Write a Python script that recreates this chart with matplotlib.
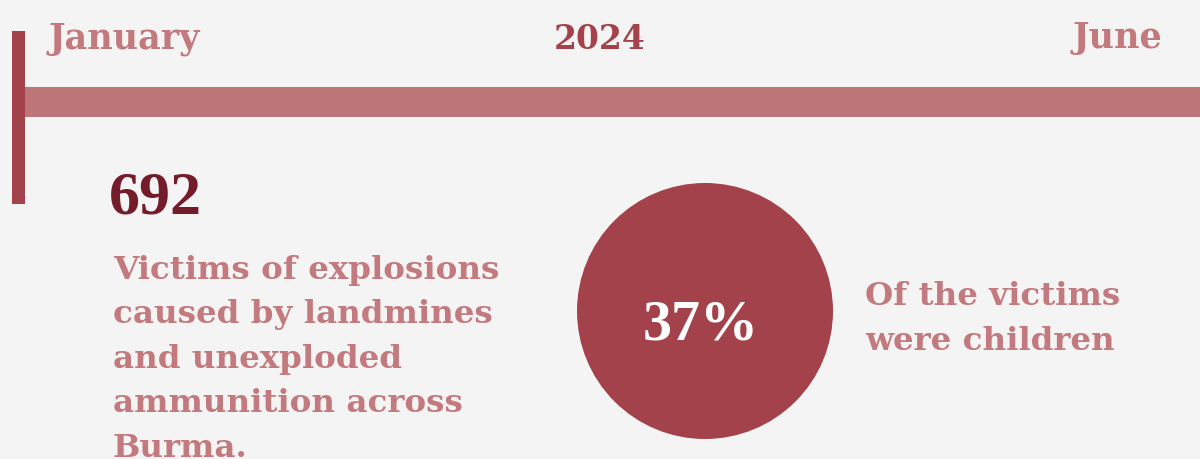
import matplotlib.pyplot as plt
from matplotlib.patches import Circle, Rectangle

# ── 数据 ────────────────────────────────────────────────
PERIOD_LABELS = ["January", "2024", "June"]
VICTIMS_TOTAL = 692
CHILD_SHARE_PCT = 37
VICTIMS_TEXT = ["Victims of explosions", "caused by landmines", "and unexploded",
                "ammunition across", "Burma."]
CHILD_TEXT = ["Of the victims", "were children"]

# ── 样式 ────────────────────────────────────────────────
BG = "#f4f4f4"
COL_DARK = "#a3424a"
COL_BAND = "#bd7579"
COL_LIGHT = "#c27a7e"
COL_NUM = "#741c2a"
FONT_TEXT = "DejaVu Serif"
FONT_NUM = "Liberation Serif"

W, H = 1200, 459
fig = plt.figure(figsize=(W / 100, H / 100), dpi=100)
fig.patch.set_facecolor(BG)
ax = fig.add_axes([0, 0, 1, 1])
ax.set_xlim(0, W)
ax.set_ylim(H, 0)
ax.axis("off")


def px(size):
    # 像素 → 磅（dpi=100）
    return size * 0.72


# 时间轴
ax.add_patch(Rectangle((25, 87), W - 25, 30, color=COL_BAND, lw=0))
ax.add_patch(Rectangle((12, 31), 13, 173, color=COL_DARK, lw=0))

ax.text(49, 48, PERIOD_LABELS[0], color=COL_LIGHT, fontsize=px(35),
        fontweight="bold", family=FONT_TEXT, ha="left", va="baseline")
ax.text(600, 49, PERIOD_LABELS[1], color=COL_DARK, fontsize=px(33),
        fontweight="bold", family=FONT_TEXT, ha="center", va="baseline")
ax.text(1162, 48, PERIOD_LABELS[2], color=COL_LIGHT, fontsize=px(35),
        fontweight="bold", family=FONT_TEXT, ha="right", va="baseline")

# 左侧：总数
ax.text(109, 213, f"{VICTIMS_TOTAL}", color=COL_NUM, fontsize=px(62),
        fontweight="bold", family=FONT_NUM, ha="left", va="baseline")
for i, line in enumerate(VICTIMS_TEXT):
    ax.text(113, 279 + 44.5 * i, line, color=COL_LIGHT, fontsize=px(32.5),
            fontweight="bold", family=FONT_TEXT, ha="left", va="baseline")

# 右侧：儿童占比
ax.add_patch(Circle((705, 311), 128, color=COL_DARK, lw=0))
ax.text(701, 339, f"{CHILD_SHARE_PCT}%", color="white", fontsize=px(58),
        fontweight="bold", family=FONT_NUM, ha="center", va="baseline")
for i, line in enumerate(CHILD_TEXT):
    ax.text(865, 305 + 45 * i, line, color=COL_LIGHT, fontsize=px(32.5),
            fontweight="bold", family=FONT_TEXT, ha="left", va="baseline")

fig.savefig("out.png", dpi=100, facecolor=BG)
